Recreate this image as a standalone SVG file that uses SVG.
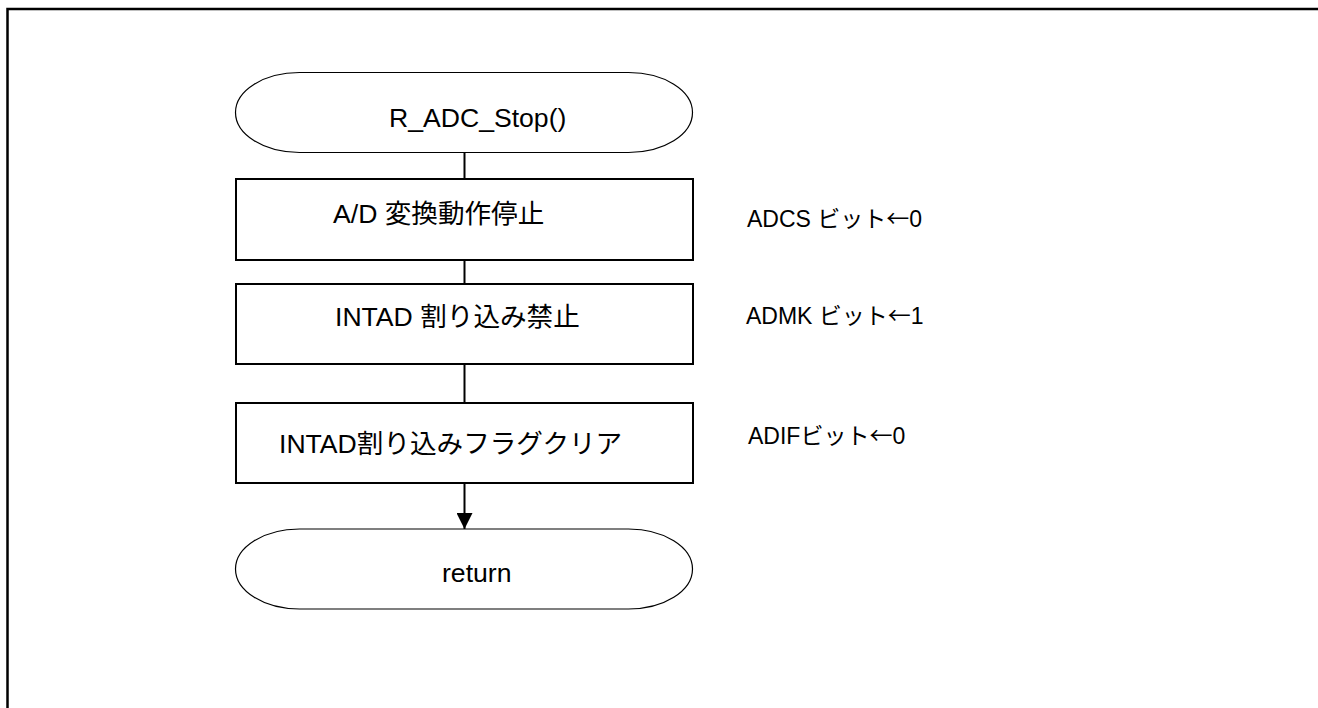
<svg xmlns="http://www.w3.org/2000/svg" width="1318" height="708" viewBox="0 0 1318 708">
<style>
text{font-family:"Liberation Sans","Noto Sans CJK JP",sans-serif;fill:#000}
.t{font-size:26.6px}
.s{font-size:23px}
.ar{font-family:"Noto Sans CJK JP",sans-serif}
.box{fill:#fff;stroke:#000;stroke-width:2}
.term{fill:#fff;stroke:#000;stroke-width:1.2}
.con{stroke:#000;stroke-width:2;fill:none}
</style>
<defs>
<marker id="ah" markerUnits="userSpaceOnUse" markerWidth="16" markerHeight="16" refX="16" refY="8" orient="auto" viewBox="0 0 16 16">
<path d="M0,0 L16,8 L0,16 Z" fill="#000"/>
</marker>
</defs>
<rect width="1318" height="708" fill="#fff"/>
<path d="M7.5,708 V9 H1318" fill="none" stroke="#000" stroke-width="2.5"/>
<g id="connectors">
<line class="con" x1="464.5" y1="153" x2="464.5" y2="179"/>
<line class="con" x1="464.5" y1="260" x2="464.5" y2="284"/>
<line class="con" x1="464.5" y1="364" x2="464.5" y2="403"/>
<line class="con" x1="464.5" y1="483" x2="464.5" y2="529" marker-end="url(#ah)"/>
</g>
<g id="start">
<rect class="term" x="235.5" y="72.5" width="457" height="80" rx="64" ry="40"/>
<text class="t" x="389" y="127">R_ADC_Stop()</text>
</g>
<g id="step1">
<rect class="box" x="236" y="179" width="457" height="81"/>
<text class="t" x="333" y="223">A/D 変換動作停止</text>
</g>
<g id="step2">
<rect class="box" x="236" y="284" width="457" height="80"/>
<text class="t" x="335" y="326">INTAD 割り込み禁止</text>
</g>
<g id="step3">
<rect class="box" x="236" y="403" width="457" height="80"/>
<text class="t" x="279" y="453">INTAD割り込みフラグクリア</text>
</g>
<g id="end">
<rect class="term" x="235.5" y="529" width="457" height="80" rx="64" ry="40"/>
<text class="t" x="442" y="582">return</text>
</g>
<g id="notes">
<text class="s" x="747" y="227">ADCS ビット<tspan class="ar">←</tspan>0</text>
<text class="s" x="746" y="324">ADMK ビット<tspan class="ar">←</tspan>1</text>
<text class="s" x="748" y="444">ADIFビット<tspan class="ar">←</tspan>0</text>
</g>
</svg>
